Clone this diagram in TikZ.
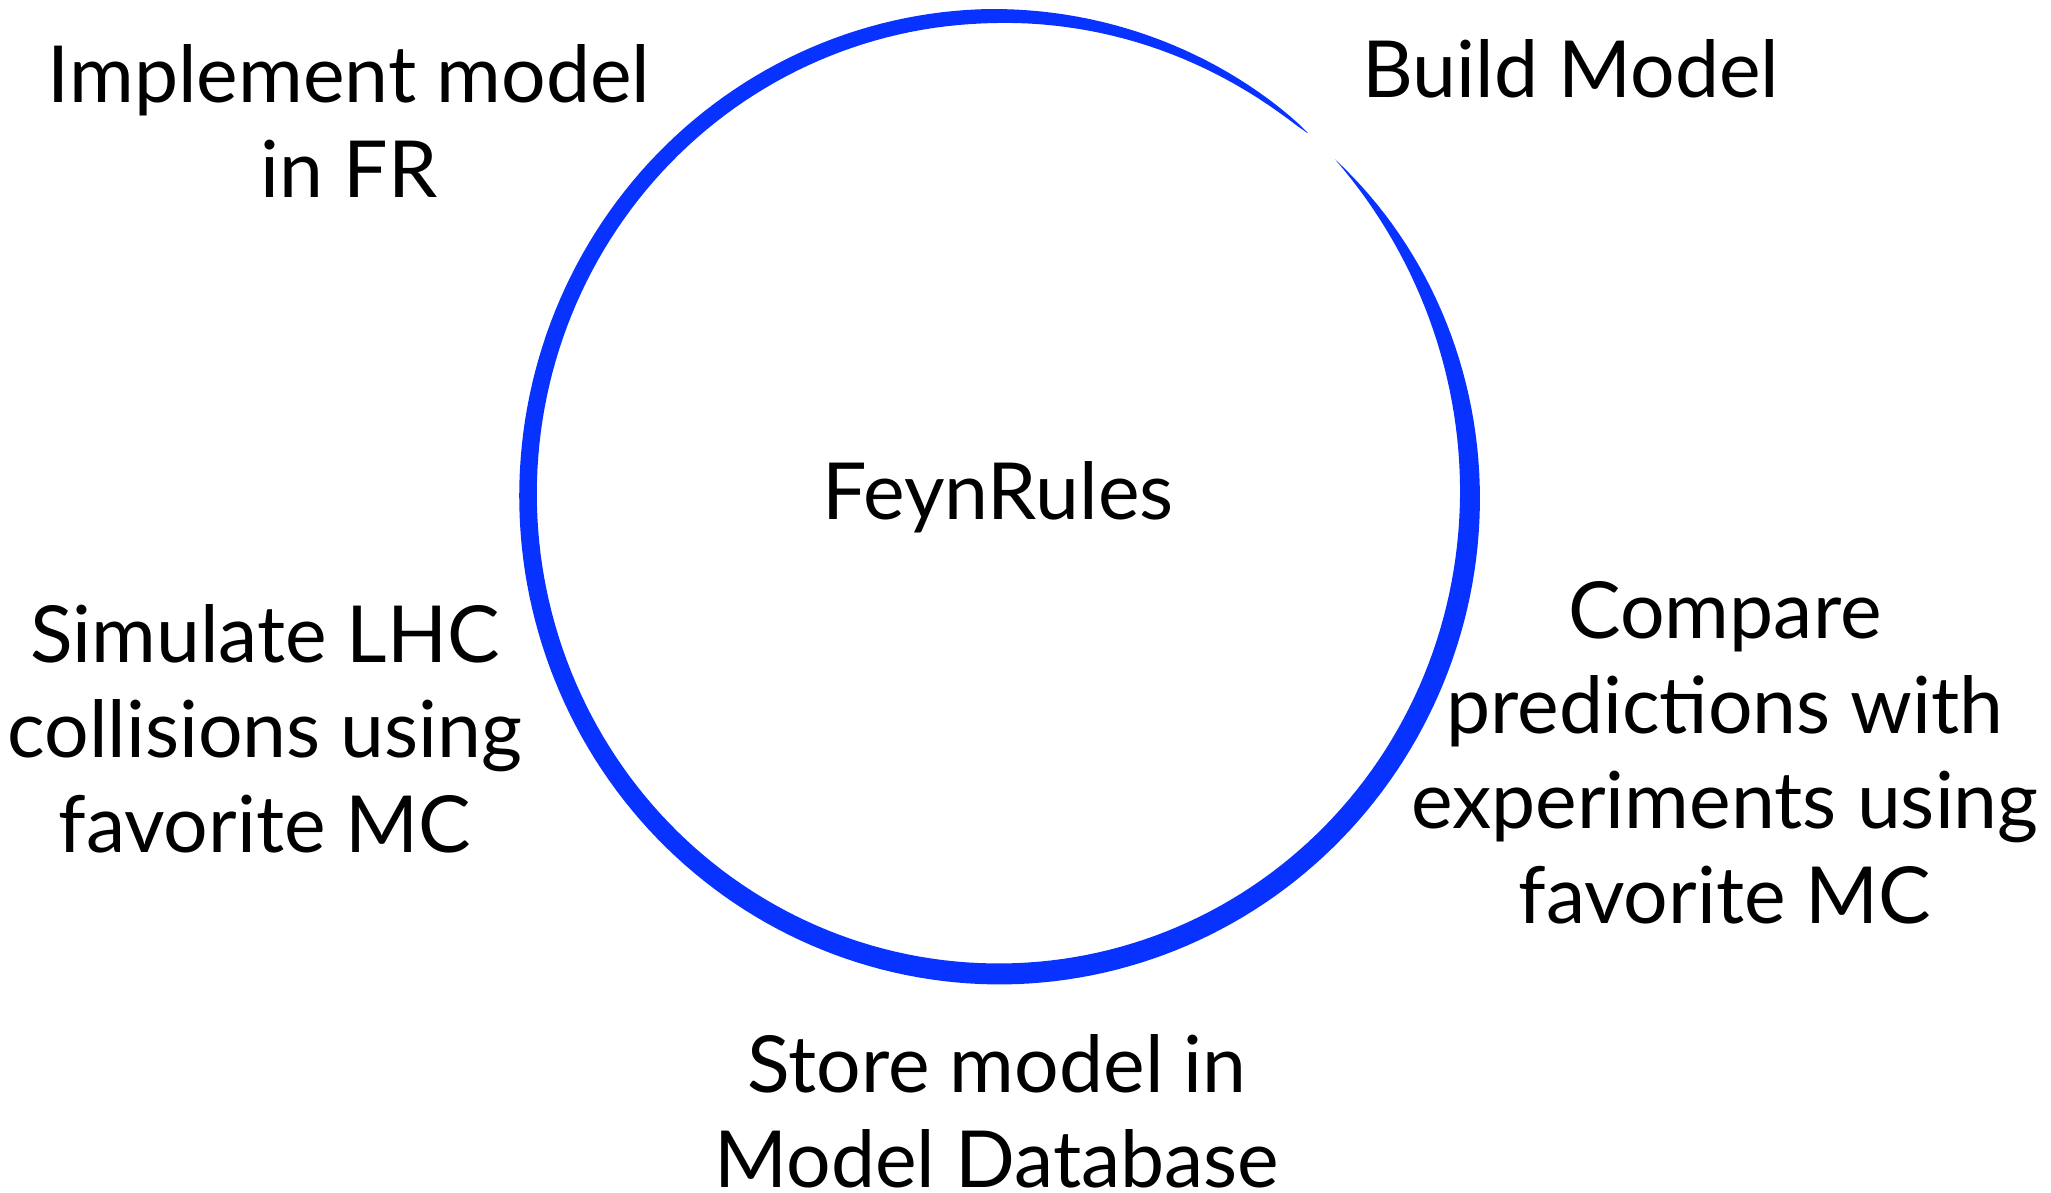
\documentclass[tikz,border=0pt]{standalone}
\usepackage{fontspec}
\setmainfont{Lato}
\definecolor{brushblue}{RGB}{8,50,255}
\tikzset{
  stagetext/.style={align=center,inner sep=0pt,font=\fontsize{22.4}{27}\selectfont},
  declare function={
    ang(\t)=44.5-355.5*\t;
    rise(\t)=1-min(\t/0.2,1);
    wid(\t)=0.21*(1-rise(\t)*rise(\t)*rise(\t))*(1-0.4*max(\t-0.38,0)/0.62)*sqrt(min((1-\t)/0.12,1));
  }
}
\begin{document}
\begin{tikzpicture}
\useasboundingbox (0,0) rectangle (20.51,11.93);

% brush stroke circle
\fill[brushblue] plot[domain=0:1,samples=240,variable=\t]
    ({9.99+(4.71+wid(\t)/2)*cos(ang(\t))},{6.98+(4.79+wid(\t)/2)*sin(ang(\t))})
  -- plot[domain=1:0,samples=240,variable=\t]
    ({9.99+(4.71-wid(\t)/2)*cos(ang(\t))},{6.98+(4.79-wid(\t)/2)*sin(ang(\t))})
  -- cycle;

\node[stagetext] (feynrules) at (9.98,6.96) {FeynRules};
\node[stagetext] (build) at (15.71,11.24) {Build Model};
\node[stagetext] (implement) at (3.49,10.72) {Implement model\\in FR};
\node[stagetext] (simulate) at (2.65,4.64) {Simulate LHC\\collisions using\\favorite MC};
\node[stagetext] (store) at (9.97,0.82) {Store model in\\Model Database};
\node[stagetext] (compare) at (17.25,4.40) {Compare\\predictions with\\experiments using\\favorite MC};
\end{tikzpicture}
\end{document}
